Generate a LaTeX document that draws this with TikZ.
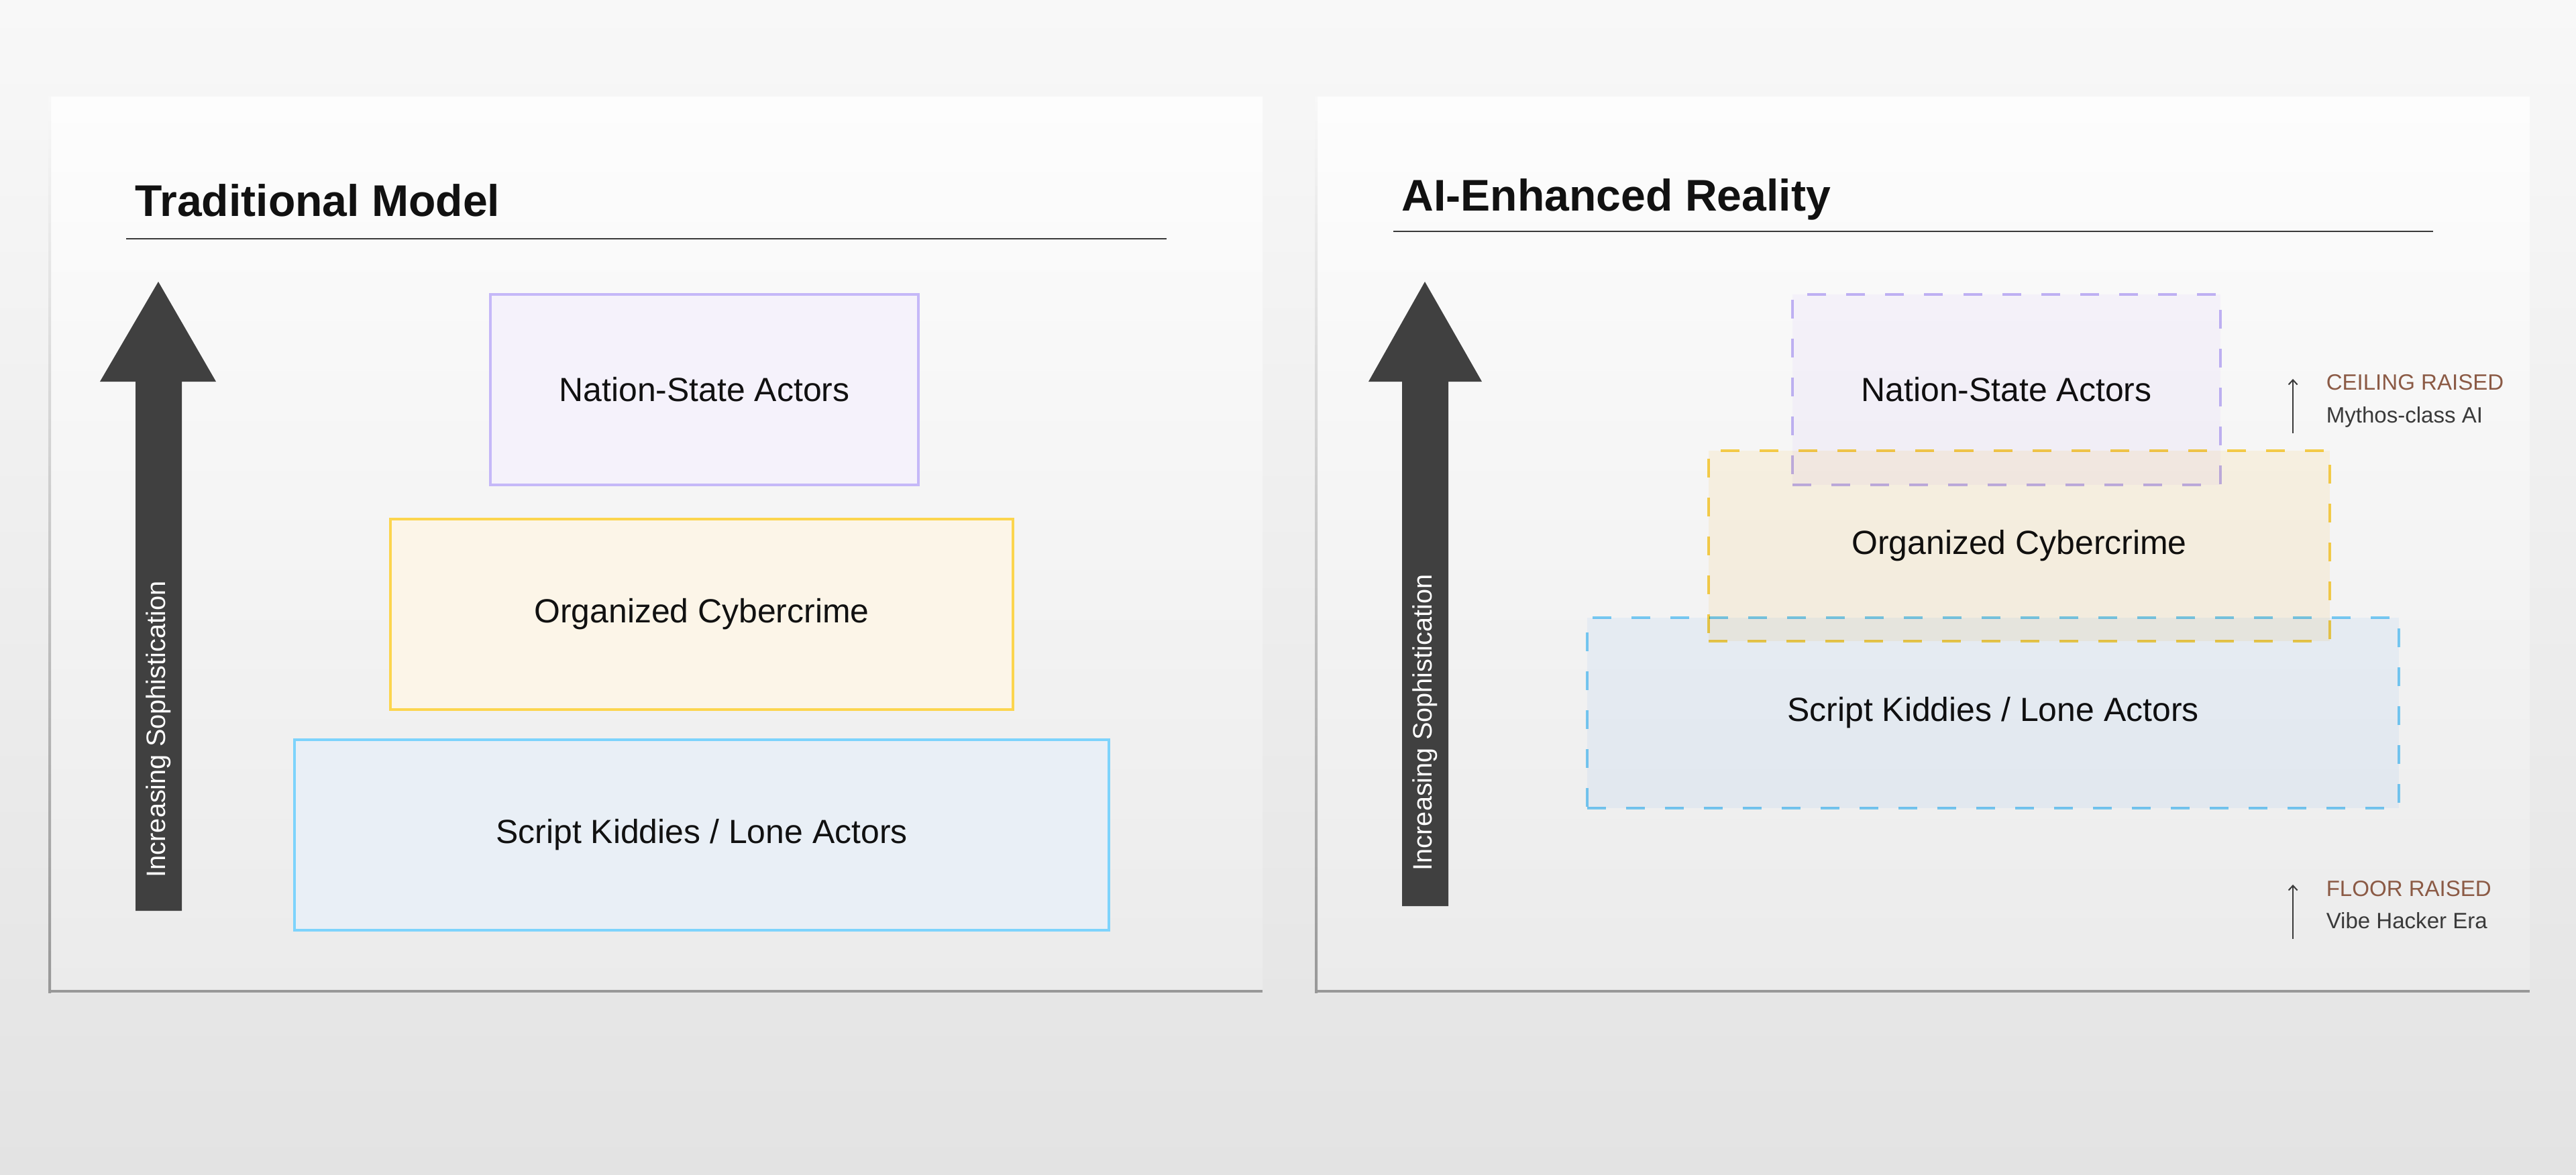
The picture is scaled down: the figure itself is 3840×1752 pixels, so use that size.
\documentclass[tikz,border=0pt]{standalone}
\usepackage{fontspec}
\setmainfont{Liberation Sans}
\usetikzlibrary{arrows.meta,positioning}

\definecolor{bgtop}{HTML}{F8F8F8}
\definecolor{bgmid}{HTML}{F1F1F1}
\definecolor{bgbot}{HTML}{E3E3E3}
\definecolor{pntop}{HTML}{FDFDFD}
\definecolor{pnmid}{HTML}{F7F7F7}
\definecolor{pnbot}{HTML}{EBEBEB}
\definecolor{edge}{HTML}{989898}
\definecolor{ink}{HTML}{111111}
\definecolor{arw}{HTML}{404040}
\definecolor{nsline}{HTML}{C5B8F8}
\definecolor{nsfill}{HTML}{F5F2FB}
\definecolor{ocline}{HTML}{FCD54E}
\definecolor{ocfill}{HTML}{FCF5E8}
\definecolor{skline}{HTML}{7DD3FC}
\definecolor{skfill}{HTML}{E9EFF6}
\definecolor{nsglass}{HTML}{FAF7FF}
\definecolor{ocglass}{HTML}{FFF8E9}
\definecolor{skglass}{HTML}{F2F8FF}
\definecolor{tagc}{HTML}{8B5A45}
\definecolor{subc}{HTML}{3A3A3A}

\begin{document}
\begin{tikzpicture}[x=0.01cm,y=-0.01cm,
  box/.style={draw,line width=0.04cm,inner sep=0pt,minimum height=2.84cm,text=ink,font=\fontsize{14.2}{17}\selectfont},
  dbox/.style={box,dash pattern=on 0.28cm off 0.3cm},
  ttl/.style={inner sep=0pt,anchor=base west,text=ink,font=\fontsize{18.8}{22}\selectfont\bfseries},
  rule/.style={draw=subc,line width=0.02cm},
  upword/.style={inner sep=0pt,anchor=west,rotate=90,text=white,font=\fontsize{11.3}{13}\selectfont},
  tag/.style={inner sep=0pt,anchor=base west,text=tagc,font=\fontsize{9.4}{11}\selectfont},
  sub/.style={inner sep=0pt,anchor=base west,text=subc,font=\fontsize{9.4}{11}\selectfont},
  small/.style={draw=subc,line width=0.02cm,-{Straight Barb[length=0.07cm,width=0.13cm]}}]

%背景
\shade[top color=bgtop,middle color=bgmid,bottom color=bgbot](0,0)rectangle(3840,1752);
\useasboundingbox(0,0)rectangle(3840,1752);

%パネル
\shade[top color=pntop,middle color=pnmid,bottom color=pnbot](72,145)rectangle(1882,1480); %左
\shade[top color=pntop,middle color=pnmid,bottom color=pnbot](1960,145)rectangle(3771,1480); %右
\shade[top color=bgtop,bottom color=edge](72,145)rectangle(76,1480); %左縁
\shade[top color=bgtop,bottom color=edge](1960,145)rectangle(1964,1480); %左縁
\fill[edge](72,1476)rectangle(1882,1480); %下縁
\fill[edge](1960,1476)rectangle(3771,1480); %下縁

%左パネル
\node[ttl] (tL) at (201,323) {Traditional Model};
\draw[rule](188,356)to(1739,356);
\fill[arw](236,420)to(322,569)to(271,569)to(271,1358)to(202,1358)to(202,569)to(149,569)--cycle; %矢印
\node[upword] (uL) at (236.5,1309) {Increasing Sophistication};

\node[box,draw=nsline,fill=nsfill,minimum width=6.37cm] (nsL) at (1050,581) {Nation-State Actors};
\node[box,draw=ocline,fill=ocfill,minimum width=9.27cm] (ocL) at (1046,916) {Organized Cybercrime};
\node[box,draw=skline,fill=skfill,minimum width=12.13cm] (skL) at (1046,1245) {Script Kiddies / Lone Actors};

%右パネル
\node[ttl] (tR) at (2089,315) {AI-Enhanced Reality};
\draw[rule](2077,345)to(3627,345);
\fill[arw](2124,420)to(2209,569)to(2159,569)to(2159,1351)to(2090,1351)to(2090,569)to(2040,569)--cycle; %矢印
\node[upword] (uR) at (2124.5,1299) {Increasing Sophistication};

\begin{scope}[blend mode=multiply]
\node[dbox,draw=skline,fill=skglass,minimum width=12.10cm] (skR) at (2971,1063) {Script Kiddies / Lone Actors};
\node[dbox,draw=ocline,fill=ocglass,minimum width=9.25cm] (ocR) at (3010,814) {Organized Cybercrime};
\node[dbox,draw=nsline,fill=nsglass,minimum width=6.37cm] (nsR) at (2991,581) {Nation-State Actors};
\end{scope}

%注記
\node[tag] (ceil) at (3467,581) {CEILING RAISED};
\node[sub] (myth) at (3467,630) {Mythos-class AI};
\coordinate (c0) at (3418,646);
\coordinate (c1) at (3418,565);
\draw[small](c0)to(c1);

\node[tag] (floor) at (3467,1336) {FLOOR RAISED};
\node[sub] (vibe) at (3467,1384) {Vibe Hacker Era};
\coordinate (f0) at (3418,1400);
\coordinate (f1) at (3418,1319);
\draw[small](f0)to(f1);
\end{tikzpicture}
\end{document}
